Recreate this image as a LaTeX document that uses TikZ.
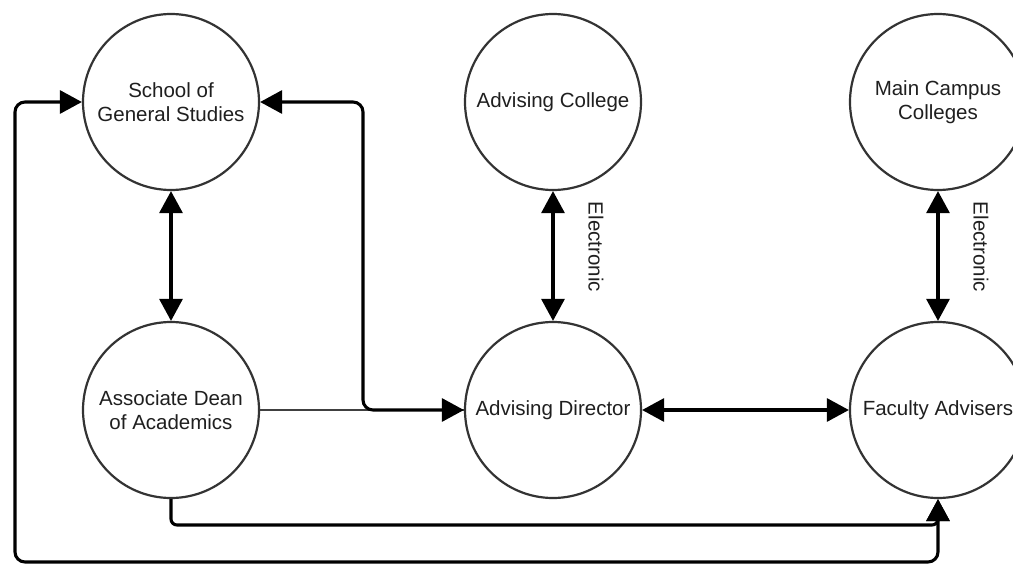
\documentclass[tikz,border=0pt]{standalone}
\usepackage{fontspec}
\setmainfont{Liberation Sans}
\usetikzlibrary{arrows.meta,calc}

\tikzset{
  unit/.style={circle, draw=black!80, line width=2.2pt, fill=white,
    minimum size=176pt, inner sep=0pt, align=center, text=black!88,
    font=\fontsize{20.5}{24.6}\selectfont},
  conn/.style={draw=black, line width=3.1pt,
    >={Triangle[length=22pt,width=23pt]}},
  thinconn/.style={draw=black!75, line width=2.5pt},
  lbl/.style={rotate=-90, text=black!88, inner sep=0pt,
    font=\fontsize{20.5}{24.6}\selectfont},
}

\begin{document}
\begin{tikzpicture}[x=1pt,y=-1pt]
  % canvas
  \fill[white] (0,0) rectangle (1013,565);
  \useasboundingbox (0,0) rectangle (1013,565);

  % units
  \node[unit] (school)   at (171,102) {School of\\General Studies};
  \node[unit] (assoc)    at (171,410) {Associate Dean\\of Academics};
  \node[unit] (advcol)   at (553,102) {Advising College};
  \node[unit] (director) at (553,410) {Advising Director};
  \node[unit] (main)     at (938,102) {Main Campus\\Colleges};
  \node[unit] (faculty)  at (938,410) {Faculty Advisers};

  % links
  \draw[thinconn] (assoc.east) -- (director.west);
  \draw[conn,<->] (school.south) -- (assoc.north);
  \draw[conn,<->] (advcol.south) -- (director.north);
  \draw[conn,<->] (main.south) -- (faculty.north);
  \draw[conn,<->] (director.east) -- (faculty.west);
  \draw[conn,<->,rounded corners=10pt]
    (school.east) -| (363,410) -- (director.west);
  \draw[conn,->,rounded corners=6pt]
    (assoc.south) |- (938,525) -- (faculty.south);
  \draw[conn,<->,rounded corners=10pt]
    (school.west) -| (15,562) -| (faculty.south);

  % channel labels
  \node[lbl] (el1) at ($(advcol.south)!0.43!(director.north)+(43,0)$) {Electronic};
  \node[lbl] (el2) at ($(main.south)!0.43!(faculty.north)+(43,0)$) {Electronic};
\end{tikzpicture}
\end{document}
